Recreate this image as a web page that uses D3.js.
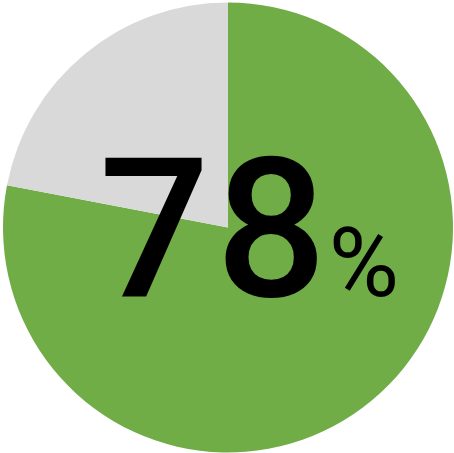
<!DOCTYPE html>
<html lang="en">
<head>
  <meta charset="UTF-8">
  <title>78%</title>
  <style>
    body { margin: 0; padding: 0; background: #fff; }
    svg { display: block; }
  </style>
</head>
<body>
  <div class="chart"></div>
  <script src="https://cdnjs.cloudflare.com/ajax/libs/d3/7.8.5/d3.min.js"></script>
  <script>
    'use strict';

    const labels = ['done', 'rest'],
      values = [78, 22],
      colors = ['#70ad47', '#d9d9d9'];

    const w = 454, h = 453,
      cx = 228, cy = 227.5, r = 225;

    const svg = d3.select('.chart')
      .append('svg')
      .attr('width', w)
      .attr('height', h);

    const pie = d3.pie().sort(null).value(d => d);
    const arc = d3.arc().innerRadius(0).outerRadius(r);

    const g = svg.append('g').attr('transform', `translate(${cx},${cy})`);

    g.selectAll('path')
      .data(pie(values))
      .enter()
      .append('path')
      .attr('d', arc)
      .attr('fill', (d, i) => colors[i]);

    // big number label
    const label = svg.append('text')
      .attr('x', 99)
      .attr('y', 296)
      .attr('font-family', 'Roboto, "Noto Sans", sans-serif')
      .attr('fill', '#000');

    label.append('tspan')
      .attr('font-size', 195)
      .attr('font-weight', 500)
      .attr('letter-spacing', 6)
      .text(values[0]);

    label.append('tspan')
      .attr('font-size', 96)
      .attr('font-weight', 400)
      .attr('dx', -4)
      .text('%');
  </script>
</body>
</html>
